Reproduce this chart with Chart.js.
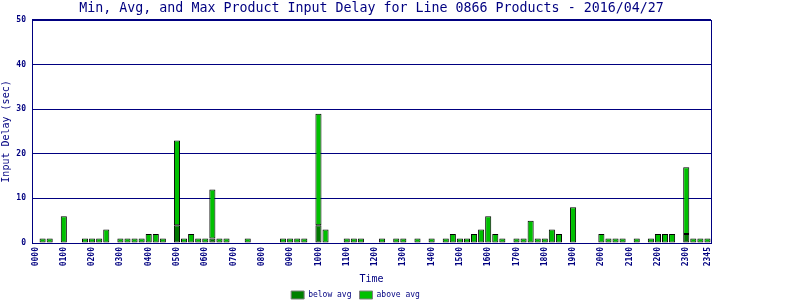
<!DOCTYPE html>
<html>
<head>
<meta charset="utf-8">
<script src="https://cdn.jsdelivr.net/npm/chart.js@4/dist/chart.umd.min.js"></script>
<style>
  html, body { margin: 0; background: #fff; }
</style>
</head>
<body>
<canvas id="chart" width="800" height="300"></canvas>
<script>
  // 15 minute slots, 0000 .. 2345
  const times = [];
  for (let h = 0; h < 24; h++) {
    for (const m of ["00", "15", "30", "45"]) times.push(String(h).padStart(2, "0") + m);
  }

  const tickLabels = ["0000", "0100", "0200", "0300", "0400", "0500", "0600", "0700",
    "0800", "0900", "1000", "1100", "1200", "1300", "1400", "1500", "1600", "1700",
    "1800", "1900", "2000", "2100", "2200", "2300", "2345"];

  // dark part of the bar (seconds)
  const belowAvg = [
    null, null, null, null, null, null, null, null, null, null, null, null,
    null, null, null, null, null, null, null, null, 4, null, null, null,
    null, 1, null, null, null, null, null, null, null, null, null, null,
    null, null, null, null, 4, null, null, null, null, null, null, null,
    null, null, null, null, null, null, null, null, null, null, null, null,
    null, null, null, null, null, null, null, null, null, null, null, null,
    null, null, null, null, null, null, null, null, null, null, null, null,
    null, null, null, null, null, null, null, null, 2, null, null, null
  ];

  // light part stacked on top (seconds)
  const aboveAvg = [
    null, 1, 1, null, 6, null, null, 1, 1, 1, 3, null,
    1, 1, 1, 1, 2, 2, 1, null, 19, 1, 2, 1,
    1, 11, 1, 1, null, null, 1, null, null, null, null, 1,
    1, 1, 1, null, 25, 3, null, null, 1, 1, 1, null,
    null, 1, null, 1, 1, null, 1, null, 1, null, 1, 2,
    1, 1, 2, 3, 6, 2, 1, null, 1, 1, 5, 1,
    1, 3, 2, null, 8, null, null, null, 2, 1, 1, 1,
    null, 1, null, 1, 2, 2, 2, null, 15, 1, 1, 1
  ];

  const navy = "#000080";
  Chart.defaults.font.family = "'DejaVu Sans Mono', monospace";
  Chart.defaults.color = navy;

  const frame = {
    id: "frame",
    beforeDatasetsDraw(chart) {
      const a = chart.chartArea, ctx = chart.ctx;
      ctx.save();
      ctx.strokeStyle = navy;
      ctx.lineWidth = 1;
      ctx.strokeRect(Math.round(a.left) + 0.5, Math.round(a.top) + 0.5,
        Math.round(a.right - a.left), Math.round(a.bottom - a.top));
      ctx.restore();
    }
  };

  new Chart(document.getElementById("chart"), {
    type: "bar",
    data: {
      labels: times,
      datasets: [
        { label: "below avg", data: belowAvg, backgroundColor: "#007800",
          borderColor: "#000", borderWidth: 1, borderSkipped: false },
        { label: "above avg", data: aboveAvg, backgroundColor: "#00c000",
          borderColor: "#000", borderWidth: 1, borderSkipped: false }
      ]
    },
    options: {
      responsive: false,
      animation: false,
      layout: { padding: { left: 0, right: 89, top: 0, bottom: -9 } },
      datasets: { bar: { barPercentage: 0.86, categoryPercentage: 1 } },
      plugins: {
        title: {
          display: true,
          text: "Min, Avg, and Max Product Input Delay for Line 0866 Products - 2016/04/27",
          color: navy,
          font: { size: 13.3, weight: "normal" },
          padding: { top: 1, bottom: 3 },
          fullSize: false
        },
        legend: {
          position: "bottom",
          labels: {
            boxWidth: 13,
            boxHeight: 8,
            padding: 8,
            font: { size: 8 },
            color: navy,
            generateLabels(chart) {
              return Chart.defaults.plugins.legend.labels.generateLabels(chart).map(l => {
                l.strokeStyle = "#808080";
                l.lineWidth = 1;
                l.fillStyle = l.datasetIndex === 0 ? "#008000" : "#00c000";
                return l;
              });
            }
          }
        },
        tooltip: { enabled: false }
      },
      scales: {
        x: {
          stacked: true,
          grid: { display: false, drawTicks: false },
          border: { display: true, color: navy },
          ticks: {
            autoSkip: false,
            minRotation: 90,
            maxRotation: 90,
            padding: 4,
            font: { size: 8, weight: "bold" },
            color: navy,
            callback(v) {
              const t = this.getLabelForValue(v);
              return tickLabels.includes(t) ? t : null;
            }
          },
          title: { display: true, text: "Time", color: navy, font: { size: 10 }, padding: { top: 4, bottom: -2 } },
          afterFit(s) { s.height = 40; }
        },
        y: {
          stacked: true,
          min: 0,
          max: 50,
          grid: { color: navy, drawTicks: false },
          border: { display: true, color: navy },
          ticks: { stepSize: 10, padding: 6, font: { size: 8, weight: "bold" }, color: navy },
          title: { display: true, text: "Input Delay (sec)", color: navy, font: { size: 10 }, padding: { top: 0, bottom: 1 } },
          afterFit(s) { s.width = 32; }
        }
      }
    },
    plugins: [frame]
  });
</script>
</body>
</html>
